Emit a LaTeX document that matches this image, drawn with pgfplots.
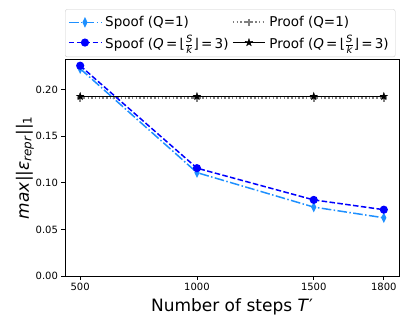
\documentclass[border=0pt]{standalone}
\usepackage{pgfplots}
\pgfplotsset{compat=1.18}
\usepackage{fontspec}
\setmainfont{DejaVu Sans}

\definecolor{cDodger}{HTML}{1E90FF}
\definecolor{cBlue}{HTML}{0000FF}
\definecolor{cGrey}{HTML}{808080}

% filled five-point star
\pgfdeclareplotmark{fstar}{%
  \pgfpathmoveto{\pgfpointpolar{90}{\pgfplotmarksize}}%
  \pgfpathlineto{\pgfpointpolar{126}{0.40\pgfplotmarksize}}%
  \pgfpathlineto{\pgfpointpolar{162}{\pgfplotmarksize}}%
  \pgfpathlineto{\pgfpointpolar{198}{0.40\pgfplotmarksize}}%
  \pgfpathlineto{\pgfpointpolar{234}{\pgfplotmarksize}}%
  \pgfpathlineto{\pgfpointpolar{270}{0.40\pgfplotmarksize}}%
  \pgfpathlineto{\pgfpointpolar{306}{\pgfplotmarksize}}%
  \pgfpathlineto{\pgfpointpolar{342}{0.40\pgfplotmarksize}}%
  \pgfpathlineto{\pgfpointpolar{18}{\pgfplotmarksize}}%
  \pgfpathlineto{\pgfpointpolar{54}{0.40\pgfplotmarksize}}%
  \pgfpathclose\pgfusepathqfillstroke}

\newcommand{\lf}{\fontsize{13.5}{15}\selectfont}
\newcommand{\sk}{\ensuremath{\frac{\mbox{\fontsize{10}{10}\selectfont\itshape S}}{\mbox{\fontsize{10}{10}\selectfont\itshape k}}}}
\newcommand{\qfrac}{\textit{Q}\,=\,⌊\sk⌋\,=\,3}

\begin{document}
\begin{tikzpicture}
\path[use as bounding box] (0,0) rectangle (406pt,327pt);
\begin{axis}[
    at={(65pt,51pt)}, anchor=south west,
    width=334pt, height=217pt, scale only axis,
    xmin=435, xmax=1865, ymin=0, ymax=0.233,
    xtick={500,1000,1500,1800},
    ytick={0,0.05,0.10,0.15,0.20},
    yticklabel style={/pgf/number format/fixed, /pgf/number format/precision=2,
                      /pgf/number format/fixed zerofill},
    xticklabel style={/pgf/number format/set thousands separator={}},
    /pgf/number format/assume math mode=true,
    tick label style={font=\fontsize{10}{12}\selectfont},
    tick align=outside, tick pos=left,
    major tick length=3.5pt,
    axis line style={black, line width=0.8pt},
    every tick/.style={black, line width=0.8pt},
    xlabel={Number of steps \textit{T}′},
    ylabel={\textit{max}||\textit{ε}\textsubscript{\textit{repr}}||\textsubscript{1}},
    label style={font=\fontsize{17}{20}\selectfont},
    x label style={at={(axis description cs:0.5,-0.1415)}, anchor=center},
    y label style={at={(axis description cs:-0.12,0.5)}, anchor=center, rotate=0},
    legend columns=2,
    legend style={at={(axis description cs:0,1.009)}, anchor=south west,
                  draw=black!20, rounded corners=2pt, fill=white,
                  column sep=0pt, row sep=5pt, inner xsep=3pt, inner ysep=6pt,
                  nodes={inner xsep=3.5pt, inner ysep=1pt}},
    legend cell align=left,
    legend image code/.code={%
      \draw[#1, mark=none] (0pt,0pt) -- (32pt,0pt);
      \draw[#1, only marks] plot coordinates {(16pt,0pt)};},
]
\addplot[cDodger, line width=1.5pt, dash pattern=on 9.6pt off 2.4pt on 1.5pt off 2.4pt,
         mark=diamond*, mark size=3.6pt, mark options={solid, fill=cDodger, xscale=0.65}]
  coordinates {(500,0.2226) (1000,0.1110) (1500,0.0740) (1800,0.0625)};
\addlegendentry{\lf Spoof (Q=1)\hspace{24pt}}
\addplot[cGrey, line width=1.8pt, dash pattern=on 1.5pt off 2.2pt,
         mark=+, mark size=3.6pt, mark options={solid, line width=2.2pt}]
  coordinates {(500,0.1907) (1000,0.1907) (1500,0.1907) (1800,0.1907)};
\addlegendentry{\lf Proof (Q=1)}
\addplot[cBlue, line width=1.5pt, dash pattern=on 5.5pt off 2.4pt,
         mark=*, mark size=3.3pt, mark options={solid, fill=cBlue}]
  coordinates {(500,0.2258) (1000,0.1158) (1500,0.0817) (1800,0.0712)};
\addlegendentry{\lf Spoof (\qfrac)\hspace{24pt}}
\addplot[black, line width=1.5pt, mark=fstar, mark size=4pt,
         mark options={solid, fill=black, line width=0.3pt}]
  coordinates {(500,0.1928) (1000,0.1928) (1500,0.1928) (1800,0.1928)};
\addlegendentry{\lf Proof (\qfrac)}
\end{axis}
\end{tikzpicture}
\end{document}
